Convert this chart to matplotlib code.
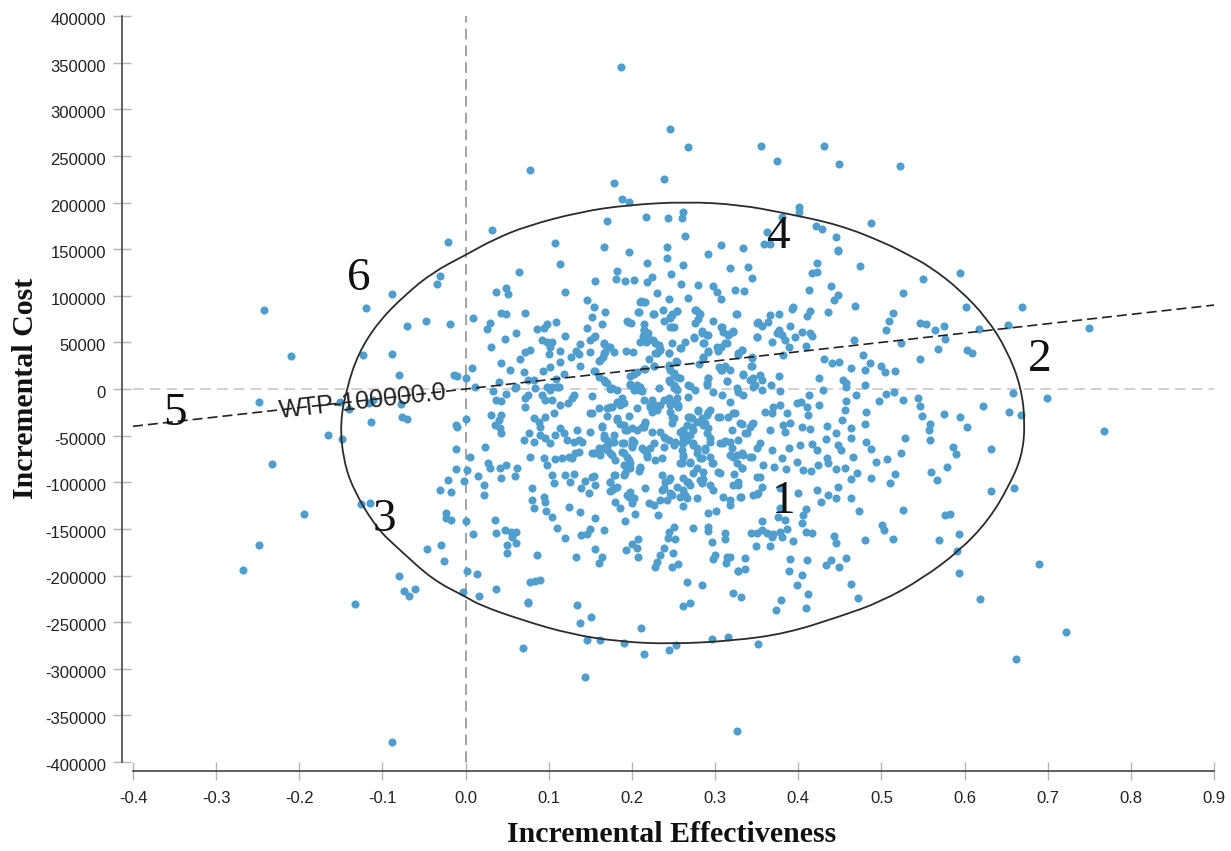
import numpy as np
import matplotlib
matplotlib.use('Agg')
import matplotlib.pyplot as plt
from matplotlib.path import Path
from matplotlib.patches import PathPatch
from matplotlib.transforms import ScaledTranslation

# simulations: (incremental effectiveness, incremental cost in thousands)
sims_far = [(.187,345),(.246,278.8),(.267,259.5),(.355,261),(.375,245),(.431,260.6),(.449,241.3),(.522,239.2),
    (.401,195.6),(.401,190),(.381,184.8),(.421,175),(.428,172),(.487,177.7),(.363,168.8),(.446,162.7),(.359,155.5),
    (.366,155.2),(.334,150.9),(.448,148.7),(.750,65.4),(.768,-45),(.689,-187.3),(.722,-261),(.662,-290),(.618,-225.2),
    (.144,-309.2),(.326,-366.8),(-.089,-378.2)]

sims_top = [(.078,234.8),(.178,220.5),(.239,225.5),(.188,204),(.196,200.5),(.170,180),(.217,184),(.243,183),(.262,190),
    (.260,183),(.032,170.5),(.108,157),(.264,164),(.166,151.8),(.197,147),(.242,152.6),(.242,140),(.292,145),(.307,154),
    (.113,133.7),(.064,125.4),(.218,135.5),(.262,133),(.318,129.4),(.247,123.7),(.182,127),(.181,118),(.192,115.4),
    (.203,117),(.218,115),(.224,119.7),(.155,115.4),(.259,113),(.279,112),(.298,110.8),(.037,104),(.049,108),(.051,102),
    (.119,104.4),(.230,103),(.302,103.6),(.307,97),(.324,106),(.245,96.5),(.268,98),(.146,95.4),(.154,88),(.211,94.4),
    (.215,93.6),(.168,82.9),(.207,82.9),(.225,80.8),(.237,84.3),(.248,80.4),(.254,83.6),(.276,84.3),(.281,81),(.325,80.4),
    (.152,77.5),(.009,76.5),(.043,82),(.048,80.4),(.072,82),(.239,73.3),(.246,77.5),(.276,70.4),(.279,74.7),(.298,73.3),
    (.164,69.7),(.195,72),(.199,70.4),(.214,69.7),(.109,72),(.029,70.4),(.026,64.3),(.098,69.7),(.086,64.7),(.094,65.4),
    (.060,60),(.146,65.4),(.248,66.5),(.308,66.8),(.215,63),(.214,57.5),(.322,60.7),(.317,59),(.047,53.2),(.119,56.5),
    (.092,52.5),(.155,56.5),(.149,52.5),(.098,50.7),(.104,50.4),(.219,54.3),(.210,50.7),(.217,50.4),(.228,49.7),(.275,54.6),
    (.284,60.4),(.290,57.9),(.287,49.3),(.248,49.3),(.264,50),(.258,44),(.312,49),(.030,45),(.138,47.9),(.166,48.6),
    (.171,45.4),(.101,44.6),(.232,45.4),(.234,41.8),(.302,45.4),(.304,40.7),(.114,40.7),(.077,41.4),(.071,39.6),(.133,40.7),
    (.149,39.6),(.168,40),(.178,39.6),(.193,41),(.201,39.3),(.100,37.5),(.291,40.4),(.228,38.6),(.244,39),(.065,32.5),
    (.127,33.9),(.136,37.5),(.165,34.6),(.161,30),(.221,31.8),(.285,32.9),(.328,36),(.043,27.9),(.114,29),(.281,27.1),
    (.253,29.6),(.227,24.6),(.008,22.8),(.053,20),(.070,18.6),(.138,25),(.093,19.3),(.101,23.2),(.216,21),(.245,24),
    (.305,24),(.308,20.3),(.318,20),(.154,18.9),(.202,16),(.118,16),(.160,13),(.166,9.6),(.25,17.5),(.254,13),(.292,12),
    (.290,6),(.314,9),(0,11.4),(.040,7.8),(.075,9.6),(.082,9.6),(.109,11),(.244,9.6),(.170,6),(.198,5),(.206,4),(.25,4),
    (.27,3),(.011,1.8),(.06,1.8),(.098,2.5),(.104,1.8),(.112,1.8),(.21,1.8)]

sims_right = [(.340,130.5),(.345,119),(.335,104.7),(.422,134.8),(.417,124.7),(.423,125.8),(.474,131.9),(.448,147.6),(.413,106),
    (.440,110.4),(.448,100.8),(.443,95.4),(.550,117.6),(.594,124),(.526,102.6),(.468,88.6),(.602,87.6),(.669,88),(.394,88.3),
    (.392,85.4),(.414,84),(.410,78.3),(.436,82.6),(.377,80.4),(.366,79),(.352,71.5),(.357,67.6),(.364,72.2),(.390,67.6),
    (.377,63.3),(.374,59.7),(.380,57.9),(.404,61.5),(.414,59.7),(.417,56.8),(.351,55.8),(.396,55.8),(.368,50.7),(.384,52.5),
    (.389,45.4),(.409,46),(.467,52.2),(.514,81.8),(.509,72.5),(.506,63.3),(.547,70.4),(.554,69.7),(.564,63.3),(.575,67.2),
    (.617,64.7),(.652,69),(.576,53.6),(.524,49),(.568,43),(.603,41.8),(.609,38.2),(.332,41.8),(.344,34),(.382,36.4),(.431,32.5),
    (.441,27.5),(.449,29),(.478,36),(.486,27.5),(.547,32.5),(.344,24.6),(.464,22.2),(.480,20.4),(.499,24.6),(.504,18.6),(.516,19),
    (.333,15),(.354,15),(.377,14),(.425,11.4),(.346,11.4),(.356,9.6),(.348,4.3),(.454,9.6),(.458,6),(.457,2.5),(.480,4.3),(.430,-1),
    (.367,4.3),(.357,-1),(.378,-1.8),(.658,-4),(.470,-6.5),(.515,-2.9),(.506,-5.7),(.497,-12.9),(.526,-11.8),(.544,-10),(.546,-18.3),
    (.549,-28.6),(.458,-12.9),(.456,-22.5),(.413,-6.5),(.403,-13.6),(.398,-15.4),(.425,-17.2),(.411,-19),(.412,-28),(.378,-17),
    (.370,-19),(.360,-24.3),(.368,-26),(.386,-25.4),(.622,-18),(.699,-10),(.653,-25),(.668,-28),(.575,-26.8),(.594,-30.4),(.603,-40.4),
    (.559,-37),(.557,-44),(.481,-24.3),(.480,-37),(.453,-33.3),(.435,-39.3),(.463,-41.5),(.404,-40.4),(.414,-43.3),(.390,-36),
    (.382,-38.6),(.384,-46),(.366,-44.3),(.344,-37),(.332,-37),(.336,-47),(.445,-47.6),(.433,-53.3),(.464,-52.9),(.529,-52.9),
    (.558,-54.7),(.482,-56.5),(.448,-60),(.452,-65.4),(.402,-60),(.416,-59),(.422,-65.4),(.354,-58),(.488,-64.4),(.586,-62.6),
    (.590,-69.7),(.632,-64.4),(.389,-63),(.368,-65.4),(.523,-68.3),(.466,-72.6),(.434,-74.4),(.436,-79.7),(.380,-74.4),(.334,-70.8),
    (.344,-73.3),(.507,-75),(.494,-78.7),(.399,-78.7),(.424,-81.5),(.358,-81.5),(.371,-84),(.579,-83.3),(.446,-86),(.456,-85),
    (.406,-87),(.415,-87.6),(.385,-86),(.332,-85),(.560,-88.7),(.471,-90.5),(.464,-96),(.516,-91),(.487,-95.5),(.567,-97.3),
    (.354,-94),(.510,-101),(.356,-104.8),(.350,-113),(.448,-104.8),(.422,-108.3),(.427,-121),(.400,-111),(.436,-113.7),(.632,-109.4),
    (.660,-106),(.378,-106.5),(.463,-116.5),(.446,-117.3),(.331,-116.2),(.526,-130),(.473,-131),(.409,-129),(.406,-135),(.577,-135),
    (.583,-134.4),(.501,-146),(.378,-128),(.376,-137),(.357,-141.2),(.384,-140.5),(.404,-144)]

sims_right_low = [(.343,-154.8),(.350,-154.8),(.356,-151.2),(.362,-154.8),(.368,-158.4),(.370,-155.5),(.378,-153),(.386,-150.5),
    (.381,-158.4),(.409,-153.7),(.417,-154),(.443,-157.3),(.446,-164.8),(.394,-163.4),(.480,-162.3),(.503,-151),(.514,-160.9),
    (.569,-162),(.593,-155.9),(.591,-173.7),(.593,-197.7),(.349,-168.4),(.366,-168.4),(.336,-180.9),(.336,-192.7),(.327,-195.2),
    (.318,-180.5),(.390,-182),(.411,-183.4),(.457,-180.9),(.433,-188.4),(.440,-183.4),(.449,-190.5),(.389,-194.8),(.405,-199.8),
    (.398,-209.9),(.464,-208.8),(.472,-224.5),(.412,-219.9),(.379,-226.3),(.373,-237.4),(.409,-235.2),(.321,-219.2),(.331,-223),
    (.352,-273.5)]

sims_bottom = [(.075,-229),(.134,-231.3),(.138,-251),(.151,-244.9),(.211,-256),(.146,-269.2),(.162,-269.2),(.191,-272.4),(.214,-284.6),
    (.245,-280),(.253,-274.2),(.296,-267.8),(.316,-265.6),(.069,-278.1),(.262,-232.4),(.270,-229.2),(.266,-207.3),(.284,-210.2),
    (.077,-206.6),(.084,-205.6),(.089,-204.5),(.037,-214.5),(.016,-221.6),(-.003,-218),(.002,-195.2),(.014,-198.4),(.075,-228.8)]

sims_mid = [(.033,-2.1),(.037,-11.8),(.043,-12.9),(.049,-5.7),(.059,1.4),(.075,-6.4),(.071,-9.3),(.084,.7),(.092,-6.4),(.096,-11.8),
    (.104,-11.8),(.102,-1),(.110,2.5),(.071,-19),(.114,-17.2),(.123,-15.4),(.128,-10),(.130,-6.4),(.152,-7.2),(.150,-26),(.160,-20.7),
    (.170,-20),(.176,-19),(.170,-28.6),(.182,-13.6),(.188,-10),(.186,-17.2),(.191,-15.4),(.206,-20.7),(.214,-11.8),(.176,.7),(.182,-1),
    (.202,.7),(.208,-1),(.212,-2.1),(.233,.7),(.224,-11.8),(.222,-19),(.228,-17.2),(.23,-22.5),(.238,-11.8),(.244,-10),(.25,-15.4),
    (.254,-10),(.256,-17.2),(.25,.7),(.254,-1),(.246,-24.3),(.25,-31.5),(.248,-36.8),(.268,-8.2),(.268,-29.7),(.272,-31.5),(.279,-22.5),
    (.266,-38.6),(.284,-31.5),(.29,-27.9),(.294,-22.5),(.288,-36.8),(.292,-42.2),(.298,-2.9),(.308,-6.4),(.318,-13.6),(.328,-2.9),
    (.306,-29.7),(.316,-29.7),(.324,-26),(.32,-44),(.03,-27.9),(.043,-27.9),(.04,-33.2),(.035,-38.6),(.041,-42.2),(.043,-47.6),(0,-32.2),
    (.082,-31.5),(.088,-35),(.096,-29.7),(.106,-26),(.09,-40.4),(.076,-46.8),(.07,-54.7),(.082,-56.5),(.09,-49.3),(.096,-52.9),(.108,-49.3),
    (.102,-58.3),(.114,-42.2),(.118,-47.6),(.134,-44),(.136,-54.7),(.13,-56.5),(.122,-54.7),(.14,-56.5),(.15,-45.8),(.164,-40.4),(.166,-49.3),
    (.178,-49.3),(.168,-61.8),(.16,-63.6),(.178,-56.5),(.17,-54.7),(.182,-31.5),(.19,-38.6),(.194,-44),(.2,-42.2),(.206,-44),(.214,-40.4),
    (.202,-56.5),(.19,-58.3),(.2,-61.8),(.216,-36.8),(.224,-45.8),(.234,-45.8),(.238,-51),(.244,-54.7),(.25,-60),(.238,-61.8),(.258,-45.8),
    (.262,-51),(.266,-54.7),(.26,-58.3),(.27,-49.3),(.274,-44),(.274,-58.3),(.278,-63.6),(.284,-74.4),(.288,-65.4),(.31,-58.3),(.294,-52.9),
    (.318,-56.5),(.328,-54.7),(.023,-61.8),(.005,-72.6),(.027,-79.7),(.029,-85),(.041,-85),(.049,-81.5),(.062,-85),(.059,-93),(.042,-95.8),
    (.015,-93),(.002,-86.9),(-.002,-98.7),(.077,-72.6),(.094,-74.4),(.098,-81.5),(.108,-75),(.116,-74.4),(.124,-72.6),(.132,-69),(.136,-67.2),
    (.128,-74.4),(.152,-69),(.162,-70.8),(.17,-65.4),(.176,-70.8),(.18,-76.1),(.19,-69),(.196,-76.1),(.19,-81.5),(.198,-85),(.19,-92),(.21,-85),
    (.212,-63.6),(.218,-70.8),(.228,-76.1),(.236,-74.4),(.222,-63.6),(.26,-79.7),(.27,-78),(.262,-70.8),(.294,-72.6),(.296,-79.7),(.306,-90.5),
    (.318,-70.8),(.326,-70.8),(.104,-92),(.106,-101),(.12,-92),(.13,-91.5),(.126,-100),(.143,-98.7),(.152,-94),(.156,-103),(.139,-106.5),(.148,-112),
    (.18,-92),(.174,-99.4),(.18,-106.5),(.174,-109.4),(.198,-110),(.202,-117),(.196,-115.5),(.2,-122.6),(.216,-105.8),(.236,-92),(.244,-97.6),
    (.238,-106.5),(.234,-119),(.226,-124.4),(.22,-122.6),(.242,-119),(.254,-104.8),(.266,-99.4),(.274,-90.5),(.282,-97.6),(.286,-88.7),(.27,-103),
    (.262,-108.3),(.258,-115.5),(.248,-113.7),(.266,-117.3),(.262,-125.1),(.278,-117.3),(.294,-103),(.298,-108.3),(.31,-115.5),(.318,-119),
    (.318,-124.4),(.328,-103),(.08,-106.5),(.08,-119),(.082,-128),(.094,-115.5),(.096,-120.8),(.097,-130.8),(.104,-136.9),(.124,-126.9),(.137,-132.3),
    (.155,-138),(.192,-141.2),(.18,-121.5),(.186,-128),(.204,-134.4),(.231,-135.1),(.292,-133.3),(.301,-130.8),(.022,-103),(.022,-113.7),(.035,-140.5),
    (0,-141.6),(.009,-155.5),(.037,-154),(.047,-151.2),(.054,-153),(.061,-153),(.056,-158.4),(.061,-165.5),(.05,-167.3),(.05,-175.5),(.086,-178),
    (.11,-149.4),(.119,-160.2),(.139,-156.6),(.146,-155.5),(.15,-150.1),(.166,-151.2),(.156,-172),(.164,-180.5),(.16,-187),(.133,-179.8),(.207,-160.9),
    (.193,-172.7),(.2,-166.6),(.206,-171),(.207,-179.8),(.25,-147.7),(.245,-153),(.243,-160.2),(.252,-161.2),(.238,-170.9),(.249,-175.5),(.234,-178),
    (.23,-185.2),(.228,-190.5),(.248,-190.5),(.255,-187.7),(.274,-149.4),(.291,-147.7),(.292,-152.3),(.312,-154.8),(.312,-160.9),(.296,-163.7),
    (.300,-178),(.298,-182.3),(.314,-179.8),(.313,-187),(.327,-195.2)]

# second pass over the crowded centre
sims_core = [(.210,93.6),(.216,93.6),(.208,82.9),(.226,80.4),(.254,83.6),(.248,79.3),(.246,75.7),(.277,84.7),(.282,80.4),(.326,80.4),(.194,73.2),
    (.214,63.2),(.219,59.6),(.213,56.8),(.218,51.8),(.225,52.5),(.250,66.8),(.246,66.1),(.307,66.8),(.310,61.4),(.316,57.9),(.322,62.5),(.284,62.5),
    (.291,57.9),(.275,55.4),(.286,49.6),(.154,56),(.166,48.9),(.174,45.4),(.166,38.2),(.162,31),(.232,47.1),(.234,42.5),(.230,38.2),(.244,38.9),
    (.259,43.6),(.314,48.9),(.307,45.4),(.291,40),(.286,33.9),(.332,41.8),(.328,38.2),(.254,29.3),(.226,24.6),(.244,25.7),(.215,21.4),(.198,13.9),
    (.206,18.5),(.155,19.6),(.168,7.8),(.246,20.3),(.250,15),(.258,11.4),(.246,7.8),(.253,.7),(.312,24.6),(.307,20.3),(.314,8.9),(.334,16),(.342,9.6),
    (.346,2.4),(.344,32.8),(.343,24.6),(.291,11.4),(.290,4.2),(.268,4.2),(.276,-1.1),(.198,4.2),(.202,-1.1),(.210,.7),(.174,-.4),(.326,.7),(.334,-6.5),
    (.350,56),(.350,70.4),(.152,-25.4),(.174,-19),(.184,-15.4),(.196,-29),(.182,-33.3),(.186,-37.5),(.192,-44),(.212,-40.4),(.216,-35),(.164,-39.7),
    (.166,-52.9),(.176,-56.5),(.170,-61.8),(.162,-65.4),(.154,-69),(.188,-58.3),(.200,-54.7),(.200,-60),(.226,-58.3),(.214,-65.4),(.218,-72.6),(.174,-69),
    (.188,-67.2),(.194,-72.6),(.198,-79.7),(.194,-85),(.192,-90.5),(.210,-83.3),(.209,-87.6),(.240,-52.9),(.222,-17.2),(.224,-24.3),(.234,-17.2),(.246,-17.2),
    (.256,-19),(.248,-29.7),(.270,-29.7),(.280,-23.2),(.292,-24.3),(.278,-35),(.272,-40.4),(.262,-44),(.266,-49.3),(.252,-56.5),(.286,-38.6),(.290,-47.6),
    (.294,-56.5),(.262,-58.3),(.260,-65.4),(.262,-72.6),(.258,-79.7),(.270,-79.7),(.274,-60),(.278,-69),(.288,-63.6),(.282,-74.4),(.304,-29.7),(.322,-26),
    (.330,-36.8),(.346,-36.8),(.342,-40.4),(.338,-46.8),(.306,-58.3),(.312,-55.4),(.298,-79.7),(.304,-88.7),(.320,-63.6),(.322,-72.6),(.326,-79.7),(.332,-85),
    (.332,-69),(.342,-72.6),(.350,-63.6),(.178,-92.2),(.174,-99.4),(.176,-108.3),(.182,-105.5),(.154,-93.3),(.240,-99.4),(.246,-95.8),(.236,-108.3),
    (.194,-113.7),(.246,-111.9),(.264,-113.7),(.262,-95.8),(.278,-85),(.286,-96),(.284,-101.2),(.268,-99.4),(.330,-115.5),(.322,-103),(.328,-99.4),(.323,-91.2),
    (.350,-94),(.352,-111.9),(.346,-113.7)]

sims_left = [(-.021,157.3),(-.031,120.8),(-.035,112.6),(-.088,102.2),(-.242,84.7),(-.120,86.5),(-.019,69.4),(-.048,72.6),(-.071,67.6),(-.124,36.8),
    (-.089,37.2),(-.210,35.4),(-.080,15.4),(-.014,15.4),(-.010,14.3),(-.249,-13.5),(-.151,-13.5),(-.140,-21.5),(-.078,-16),(-.114,-35.8),(-.077,-29.7),
    (-.070,-32.2),(-.165,-49),(-.149,-54),(-.012,-38.6),(-.010,-41.1),(-.012,-64.4),(-.233,-80.8),(-.011,-85.8),(-.021,-97.6),(-.031,-108.3),
    (-.018,-110.8),(-.126,-123.3),(-.115,-122.6),(-.194,-133.7),(-.024,-132.6),(-.024,-138.7),(-.017,-140.5),(-.248,-167.7),(-.030,-167.7),
    (-.046,-172),(-.026,-184.1),(-.268,-194.5),(-.080,-200.2),(-.074,-216.3),(-.068,-222),(-.061,-214.1),(-.133,-230.6),(-.116,-15.4),(-.111,-11.8)]

# hand drawn ring around the cloud
ring = [(-.143,1),(-.129,38.4),(-.105,72),(-.073,100.8),(-.039,125.5),(0,143.7),(.033,160),(.073,174.8),(.138,190),(.194,197.3),(.266,200.9),
    (.33,197.5),(.382,189),(.45,176),(.506,156),(.532,144),(.559,131),(.595,106),(.627,75.8),(.651,41.8),(.668,2.5),(.673,-36.8),(.669,-72.6),
    (.653,-104.8),(.629,-140.5),(.595,-172.7),(.55,-203),(.5,-228),(.45,-244),(.386,-262),(.322,-270),(.246,-273.5),(.186,-271),(.126,-263),
    (.065,-247),(.017,-231.7),(0,-222.7),(-.039,-205),(-.079,-172.7),(-.107,-149.5),(-.135,-108),(-.147,-76),(-.151,-36.8),(-.143,1)]

x_ticks = [-.4,-.3,-.2,-.1,0,.1,.2,.3,.4,.5,.6,.7,.8,.9]
y_ticks = list(range(-400000, 400001, 50000))
wtp = 100000
wtp_x = [-.4, .9]
quad_labels = {'1': (.383,-121), '2': (.690,31.5), '3': (-.098,-140.5), '4': (.376,163), '5': (-.349,-27), '6': (-.129,118)}

fig = plt.figure(figsize=(12.31, 8.51), dpi=100)
ax = fig.add_axes([133/1231, 1-762/851, (1214-133)/1231, (762-16)/851])

all_sims = np.array(sims_far + sims_top + sims_right + sims_right_low + sims_bottom + sims_mid + sims_core + sims_left)
ax.scatter(all_sims[:, 0], all_sims[:, 1]*1000, s=34, color='#4f9ecd', linewidths=0, zorder=2)

ax.axhline(0, color='#c4c4c4', lw=1.1, dashes=(7, 4), zorder=1)
ax.axvline(0, color='#8a8a8a', lw=1.1, dashes=(7, 4), zorder=1)

ax.plot(wtp_x, [v*wtp for v in wtp_x], color='#222222', lw=1.2, dashes=(6, 3), zorder=3)

# quadratic segments through the mid points keep the ring round
ring = np.array(ring[:-1])*[1, 1000]
mids = (ring + np.roll(ring, -1, axis=0))/2
verts = [mids[-1]]
codes = [Path.MOVETO]
for i in range(len(ring)):
    verts += [ring[i], mids[i]]
    codes += [Path.CURVE3, Path.CURVE3]
ax.add_patch(PathPatch(Path(verts, codes), fill=False, edgecolor='#2b2b2b', lw=1.3, zorder=3))

ax.text(-.124, -13900, 'WTP-100000.0', family='Liberation Sans', fontsize=18, color='#222222',
        rotation=6.4, rotation_mode='anchor', ha='center', va='center', zorder=4)

for lab, (lx, ly) in quad_labels.items():
    ax.text(lx, ly*1000, lab, family='Liberation Serif', fontsize=34, color='#111111', ha='center', va='center', zorder=5)

ax.set_xlim(-.4, .9)
ax.set_ylim(-400000, 400000)

for side in ['top', 'right']:
    ax.spines[side].set_visible(False)
ax.spines['left'].set_position(('outward', 8))
ax.spines['bottom'].set_position(('outward', 6.5))
ax.spines['left'].set_color('#444444')
ax.spines['bottom'].set_color('#444444')
ax.spines['left'].set_linewidth(1.2)
ax.spines['bottom'].set_linewidth(1.2)

# set_position resets the ticks, so the ticks come after the spines
ax.set_xticks(x_ticks)
ax.set_xticklabels(['%.1f' % v for v in x_ticks], family='Liberation Sans', fontsize=12, color='#222222')
ax.set_yticks(y_ticks)
ax.set_yticklabels([str(v) for v in y_ticks], family='Liberation Sans', fontsize=12, color='#222222')
ax.tick_params(axis='both', direction='inout', length=13, width=1, color='#b5b5b5')
ax.tick_params(axis='x', pad=8)
ax.tick_params(axis='y', pad=5)

# tick labels sit a little below their ticks in the original
down = ScaledTranslation(0, -3/100, fig.dpi_scale_trans)
for t in ax.get_yticklabels():
    t.set_transform(t.get_transform() + down)

fig.text(672/1231, 1-835/851, 'Incremental Effectiveness', family='Liberation Serif', weight='bold',
         fontsize=21.5, color='#111111', ha='center', va='center')
fig.text(26/1231, 1-388/851, 'Incremental Cost', family='Liberation Serif', weight='bold',
         fontsize=21.5, color='#111111', rotation=90, ha='center', va='center')

fig.savefig('out.png', dpi=100)
